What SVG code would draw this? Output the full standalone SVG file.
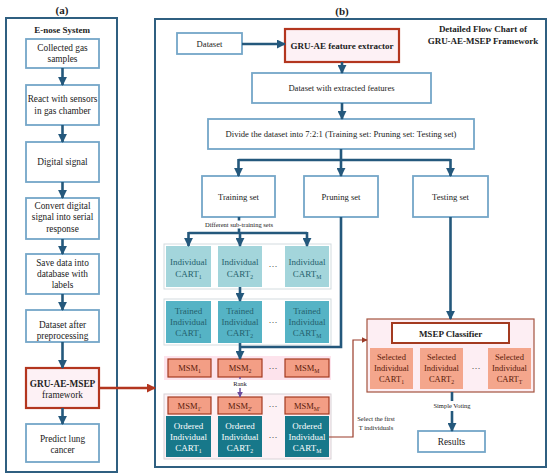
<svg xmlns="http://www.w3.org/2000/svg" width="550" height="476" viewBox="0 0 550 476">
<style>
text{font-family:"Liberation Serif","Times New Roman",serif;fill:#222;text-anchor:middle}
.panel{fill:none;stroke:#2f5f80;stroke-width:2}
.box{fill:#fff;stroke:#74a6c8;stroke-width:1.8}
.red{fill:#fdf1f5;stroke:#b3361f;stroke-width:2.2}
.t{font-size:9.3px}
.s{font-size:8.6px}
.b{font-weight:bold}
.sm{font-size:6.5px}
.arr{stroke:#24587c;stroke-width:2.6;fill:none}
.cont{fill:#fff;stroke:#d3dcdf;stroke-width:1}
.ind{fill:#a3d5db}
.trn{fill:#55b3c5}
.ord{fill:#17788a}
.msm{fill:#f39e85;stroke:#a33a20;stroke-width:1.2}
.sel{fill:#f4a68c}
.ct{font-size:9px;fill:#245f6c}
.wt{font-size:9px;fill:#fff}
.mt{font-size:8.5px;fill:#5a1a0a}
.sub{font-size:5.8px}
</style>
<defs>
<marker id="ah" viewBox="0 0 10 10" markerWidth="9" markerHeight="9" refX="9" refY="5" orient="auto" markerUnits="userSpaceOnUse"><path d="M0,0 L10,5 L0,10 z" fill="#24587c"/></marker>
<marker id="ahr" viewBox="0 0 10 10" markerWidth="9" markerHeight="9" refX="9" refY="5" orient="auto" markerUnits="userSpaceOnUse"><path d="M0,0 L10,5 L0,10 z" fill="#b3361f"/></marker>
<marker id="ahs" viewBox="0 0 10 10" markerWidth="6" markerHeight="6" refX="9" refY="5" orient="auto" markerUnits="userSpaceOnUse"><path d="M0,0 L10,5 L0,10 z" fill="#9a3b28"/></marker>
<marker id="ahp" viewBox="0 0 10 10" markerWidth="6" markerHeight="6" refX="9" refY="5" orient="auto" markerUnits="userSpaceOnUse"><path d="M0,0 L10,5 L0,10 z" fill="#6a4c9c"/></marker>
</defs>

<!-- Panel (a) -->
<g id="panel-a">
<text x="62" y="14" class="b" font-size="11">(a)</text>
<rect class="panel" x="6" y="18" width="111" height="454"/>
<text x="62" y="33" class="b" font-size="9">E-nose System</text>
</g>
<g id="a1"><rect class="box" x="26" y="39" width="73" height="29"/><text class="t" x="62.5" y="51">Collected gas</text><text class="t" x="62.5" y="62">samples</text></g>
<g id="a2"><rect class="box" x="26" y="85" width="73" height="40"/><text class="t" x="62.5" y="102">React with sensors</text><text class="t" x="62.5" y="114">in gas chamber</text></g>
<g id="a3"><rect class="box" x="26" y="142" width="73" height="40"/><text class="t" x="62.5" y="165">Digital signal</text></g>
<g id="a4"><rect class="box" x="26" y="198" width="73" height="41"/><text class="t" x="62.5" y="209">Convert digital</text><text class="t" x="62.5" y="220">signal into serial</text><text class="t" x="62.5" y="232">response</text></g>
<g id="a5"><rect class="box" x="26" y="254" width="73" height="40"/><text class="t" x="62.5" y="266">Save data into</text><text class="t" x="62.5" y="277">database with</text><text class="t" x="62.5" y="288">labels</text></g>
<g id="a6"><rect class="box" x="26" y="310" width="73" height="32"/><text class="t" x="62.5" y="328">Dataset after</text><text class="t" x="62.5" y="339">preprocessing</text></g>
<g id="a7"><rect class="red" x="26" y="368" width="73" height="40"/><text class="t b" x="62.5" y="387">GRU-AE-MSEP</text><text class="t" x="62.5" y="398">framework</text></g>
<g id="a8"><rect class="box" x="26" y="424" width="73" height="38"/><text class="t" x="62.5" y="442">Predict lung</text><text class="t" x="62.5" y="453">cancer</text></g>

<!-- Panel (b) -->
<g id="panel-b">
<text x="342" y="15" class="b" font-size="11">(b)</text>
<rect class="panel" x="155" y="19" width="391" height="448"/>
<text x="483" y="32" class="b" font-size="9" fill="#1f3f5a">Detailed Flow Chart of</text>
<text x="483" y="44" class="b" font-size="9" fill="#1f3f5a">GRU-AE-MSEP Framework</text>
</g>
<g id="dataset"><rect class="box" x="177" y="33" width="65" height="21"/><text class="s" x="209.5" y="47">Dataset</text></g>
<g id="gruae"><rect class="red" x="285" y="29" width="114" height="33"/><text class="b" font-size="9" x="342" y="48.5">GRU-AE feature extractor</text></g>
<g id="dwef"><rect class="box" x="252" y="73" width="179" height="30"/><text class="s" x="341.5" y="91">Dataset with extracted features</text></g>
<g id="divide"><rect class="box" x="208" y="119" width="266" height="30"/><text class="s" x="341" y="137">Divide the dataset into 7:2:1 (Training set: Pruning set: Testing set)</text></g>
<g id="training"><rect class="box" x="202" y="176" width="73" height="41"/><text class="s" x="238.5" y="199.5">Training set</text></g>
<g id="pruning"><rect class="box" x="304" y="176" width="74" height="41"/><text class="s" x="341" y="199.5">Pruning set</text></g>
<g id="testing"><rect class="box" x="413" y="176" width="75" height="41"/><text class="s" x="450.5" y="199.5" fill="#555">Testing set</text></g>

<!-- CART rows -->
<g id="individual-row">
<rect class="cont" x="164" y="244" width="167" height="45"/>
<rect class="ind" x="166" y="246" width="45" height="41"/>
<text class="ct" x="188.5" y="265">Individual</text><text class="ct" x="188.5" y="277">CART<tspan class="sub" dy="2">1</tspan></text>
<rect class="ind" x="218" y="246" width="44" height="41"/>
<text class="ct" x="240" y="265">Individual</text><text class="ct" x="240" y="277">CART<tspan class="sub" dy="2">2</tspan></text>
<text x="273" y="269" font-size="9" fill="#333">···</text>
<rect class="ind" x="285" y="246" width="44" height="41"/>
<text class="ct" x="307" y="265">Individual</text><text class="ct" x="307" y="277">CART<tspan class="sub" dy="2">M</tspan></text>
</g>
<g id="trained-row">
<rect class="cont" x="164" y="299" width="167" height="46"/>
<rect class="trn" x="166" y="301" width="45" height="42"/>
<text class="ct" x="188.5" y="314">Trained</text><text class="ct" x="188.5" y="325">Individual</text><text class="ct" x="188.5" y="336">CART<tspan class="sub" dy="2">1</tspan></text>
<rect class="trn" x="218" y="301" width="44" height="42"/>
<text class="ct" x="240" y="314">Trained</text><text class="ct" x="240" y="325">Individual</text><text class="ct" x="240" y="336">CART<tspan class="sub" dy="2">2</tspan></text>
<text x="273" y="325" font-size="9" fill="#333">···</text>
<rect class="trn" x="285" y="301" width="44" height="42"/>
<text class="ct" x="307" y="314">Trained</text><text class="ct" x="307" y="325">Individual</text><text class="ct" x="307" y="336">CART<tspan class="sub" dy="2">M</tspan></text>
</g>
<g id="msm-row">
<rect x="164" y="356" width="167" height="24" fill="#fde3ec"/>
<rect class="msm" x="168" y="359" width="43" height="18"/><text class="mt" x="189.5" y="371">MSM<tspan class="sub" dy="2">1</tspan></text>
<rect class="msm" x="218" y="359" width="44" height="18"/><text class="mt" x="240" y="371">MSM<tspan class="sub" dy="2">2</tspan></text>
<text x="273" y="371" font-size="9" fill="#333">···</text>
<rect class="msm" x="285" y="359" width="44" height="18"/><text class="mt" x="307" y="371">MSM<tspan class="sub" dy="2">M</tspan></text>
</g>
<g id="ordered-row">
<rect x="164" y="394" width="167" height="65" fill="#fdf1f5" stroke="#d8d2d6" stroke-width="1"/>
<rect class="msm" x="168" y="397" width="43" height="17"/><text class="mt" x="189.5" y="409">MSM<tspan class="sub" dy="2">1'</tspan></text>
<rect class="msm" x="218" y="397" width="44" height="17"/><text class="mt" x="240" y="409">MSM<tspan class="sub" dy="2">2'</tspan></text>
<text x="273" y="409" font-size="9" fill="#333">···</text>
<rect class="msm" x="285" y="397" width="44" height="17"/><text class="mt" x="307" y="409">MSM<tspan class="sub" dy="2">M'</tspan></text>
<rect class="ord" x="166" y="416" width="45" height="41"/>
<text class="wt" x="188.5" y="429">Ordered</text><text class="wt" x="188.5" y="440">Individual</text><text class="wt" x="188.5" y="451">CART<tspan class="sub" dy="2">1</tspan></text>
<rect class="ord" x="218" y="416" width="44" height="41"/>
<text class="wt" x="240" y="429">Ordered</text><text class="wt" x="240" y="440">Individual</text><text class="wt" x="240" y="451">CART<tspan class="sub" dy="2">2</tspan></text>
<text x="273" y="440" font-size="9" fill="#333">···</text>
<rect class="ord" x="285" y="416" width="44" height="41"/>
<text class="wt" x="307" y="429">Ordered</text><text class="wt" x="307" y="440">Individual</text><text class="wt" x="307" y="451">CART<tspan class="sub" dy="2">M</tspan></text>
</g>

<!-- MSEP classifier -->
<g id="msep">
<rect x="367" y="319" width="167" height="73" fill="#fdeef3" stroke="#a4533e" stroke-width="1.2"/>
<rect x="392" y="323" width="117" height="20" fill="#fff" stroke="#a33a20" stroke-width="2"/>
<text class="b" font-size="9" x="450.5" y="336.5">MSEP Classifier</text>
<rect class="sel" x="370" y="348" width="43" height="41"/>
<text class="mt" font-size="9" x="391.5" y="360">Selected</text><text class="mt" font-size="9" x="391.5" y="371">Individual</text><text class="mt" font-size="9" x="391.5" y="382">CART<tspan class="sub" dy="2">1</tspan></text>
<rect class="sel" x="420" y="348" width="43" height="41"/>
<text class="mt" font-size="9" x="441.5" y="360">Selected</text><text class="mt" font-size="9" x="441.5" y="371">Individual</text><text class="mt" font-size="9" x="441.5" y="382">CART<tspan class="sub" dy="2">2</tspan></text>
<text x="476" y="371" font-size="9" fill="#333">···</text>
<rect class="sel" x="488" y="348" width="43" height="41"/>
<text class="mt" font-size="9" x="509.5" y="360">Selected</text><text class="mt" font-size="9" x="509.5" y="371">Individual</text><text class="mt" font-size="9" x="509.5" y="382">CART<tspan class="sub" dy="2">T</tspan></text>
</g>
<g id="results"><rect class="box" x="418" y="431" width="67" height="21"/><text class="t" x="451.5" y="445">Results</text></g>

<!-- Connectors -->
<g id="connectors">
<line class="arr" x1="62.5" y1="68" x2="62.5" y2="85" marker-end="url(#ah)"/>
<line class="arr" x1="62.5" y1="125" x2="62.5" y2="142" marker-end="url(#ah)"/>
<line class="arr" x1="62.5" y1="182" x2="62.5" y2="198" marker-end="url(#ah)"/>
<line class="arr" x1="62.5" y1="239" x2="62.5" y2="254" marker-end="url(#ah)"/>
<line class="arr" x1="62.5" y1="294" x2="62.5" y2="310" marker-end="url(#ah)"/>
<line class="arr" x1="62.5" y1="342" x2="62.5" y2="368" marker-end="url(#ah)"/>
<line class="arr" x1="62.5" y1="408" x2="62.5" y2="424" marker-end="url(#ah)"/>
<line x1="99" y1="388" x2="155" y2="388" stroke="#b3361f" stroke-width="2.6" marker-end="url(#ahr)"/>

<line class="arr" x1="242" y1="44" x2="285" y2="44" marker-end="url(#ah)"/>
<line class="arr" x1="342" y1="62" x2="342" y2="73" marker-end="url(#ah)"/>
<line class="arr" x1="342" y1="103" x2="342" y2="119" marker-end="url(#ah)"/>
<line class="arr" x1="341" y1="149" x2="341" y2="160"/>
<line class="arr" x1="238.5" y1="160" x2="450.5" y2="160"/>
<line class="arr" x1="238.5" y1="159" x2="238.5" y2="176" marker-end="url(#ah)"/>
<line class="arr" x1="341" y1="159" x2="341" y2="176" marker-end="url(#ah)"/>
<line class="arr" x1="450.5" y1="159" x2="450.5" y2="176" marker-end="url(#ah)"/>

<line class="arr" x1="239" y1="217" x2="239" y2="220.5"/>
<text class="sm" x="239" y="226.5" fill="#333">Different sub-training sets</text>
<line class="arr" x1="239" y1="228.5" x2="239" y2="233"/>
<line class="arr" x1="188.5" y1="233" x2="307" y2="233"/>
<line class="arr" x1="188.5" y1="232" x2="188.5" y2="246" marker-end="url(#ah)"/>
<line class="arr" x1="240" y1="232" x2="240" y2="246" marker-end="url(#ah)"/>
<line class="arr" x1="307" y1="232" x2="307" y2="246" marker-end="url(#ah)"/>
<line class="arr" x1="240" y1="287" x2="240" y2="301" marker-end="url(#ah)"/>

<path class="arr" d="M341,217 V347 H240"/>
<line class="arr" x1="240" y1="343" x2="240" y2="359" marker-end="url(#ah)"/>

<line x1="240" y1="377" x2="240" y2="379" stroke="#6a4c9c" stroke-width="1.5"/>
<text class="sm" x="240" y="386" fill="#333">Rank</text>
<line x1="240" y1="388" x2="240" y2="397" stroke="#6a4c9c" stroke-width="1.5" marker-end="url(#ahp)"/>

<path d="M329,437 H353 V340 H367" fill="none" stroke="#9a3b28" stroke-width="1.2" marker-end="url(#ahs)"/>
<text class="sm" x="376" y="421" fill="#333">Select the first</text>
<text class="sm" x="376" y="430" fill="#333">T individuals</text>

<line class="arr" x1="450.5" y1="217" x2="450.5" y2="319" marker-end="url(#ah)"/>
<line class="arr" x1="452" y1="392" x2="452" y2="401"/>
<text class="sm" x="452" y="408" fill="#333">Simple Voting</text>
<line class="arr" x1="452" y1="411" x2="452" y2="431" marker-end="url(#ah)"/>
</g>
</svg>
